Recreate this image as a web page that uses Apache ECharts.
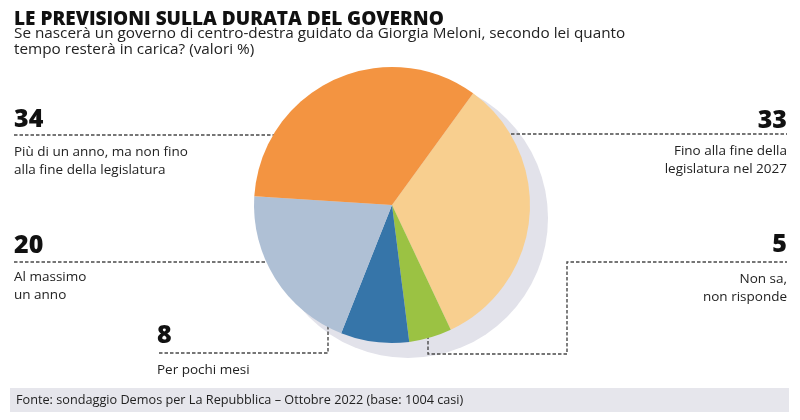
<!DOCTYPE html>
<html>
<head>
<meta charset="utf-8">
<script src="https://cdn.jsdelivr.net/npm/echarts@6/dist/echarts.min.js"></script>
<style>
html,body{margin:0;padding:0;background:#fff;}
#chart{width:800px;height:420px;}
</style>
</head>
<body>
<div id="chart"></div>
<script>
// ---- data ----
const titleText = 'LE PREVISIONI SULLA DURATA DEL GOVERNO';
const subtitleText = 'Se nascerà un governo di centro-destra guidato da Giorgia Meloni, secondo lei quanto\ntempo resterà in carica? (valori %)';
const sourceText = 'Fonte: sondaggio Demos per La Repubblica – Ottobre 2022 (base: 1004 casi)';
const categories = [
  'Fino alla fine della\nlegislatura nel 2027',
  'Non sa,\nnon risponde',
  'Per pochi mesi',
  'Al massimo\nun anno',
  'Più di un anno, ma non fino\nalla fine della legislatura'
];
const values = [33, 5, 8, 20, 34];
const colors = ['#f8cf8f', '#9bc243', '#3675a9', '#afc0d5', '#f39441'];

// ---- layout ----
const cx = 392, cy = 205, R = 138;
const FONT = '"Open Sans", "Noto Sans", sans-serif';
const dash = { stroke: '#4a4a4a', lineWidth: 1.4, lineDash: [3.5, 2] };

const labelLayout = [
  { i: 0, x: 787, numY: 121, align: 'right', line: [[500, 134], [787, 134]], textY: 142 },
  { i: 1, x: 787, numY: 245, align: 'right', line: [[428, 330], [428, 354], [567, 354], [567, 262], [787, 262]], textY: 270 },
  { i: 2, x: 157, numY: 336, align: 'left', line: [[328, 315], [328, 353], [157, 353]], textY: 361 },
  { i: 3, x: 14, numY: 246, align: 'left', line: [[14, 262], [290, 262]], textY: 268 },
  { i: 4, x: 14, numY: 120, align: 'left', line: [[14, 135], [290, 135]], textY: 143 }
];

const graphics = [];
graphics.push({ type: 'circle', z: 0, silent: true, shape: { cx: cx + 16, cy: cy + 13, r: R + 2 }, style: { fill: '#e2e2ea' } });
labelLayout.forEach(l => {
  graphics.push({ type: 'polyline', z: 1, silent: true, shape: { points: l.line }, style: Object.assign({ fill: null }, dash) });
  graphics.push({ type: 'text', z: 3, x: l.x, y: l.numY, style: {
    text: String(values[l.i]), font: '900 25px ' + FONT, fill: '#111', textAlign: l.align, textVerticalAlign: 'middle' } });
  graphics.push({ type: 'text', z: 3, x: l.x, y: l.textY, style: {
    text: categories[l.i], font: '13.5px ' + FONT, fill: '#222', textAlign: l.align, textVerticalAlign: 'top', lineHeight: 18 } });
});
graphics.push({ type: 'text', z: 3, x: 14, y: 20, style: { text: titleText, font: '800 19px ' + FONT, fill: '#111', textVerticalAlign: 'middle' } });
graphics.push({ type: 'text', z: 3, x: 14, y: 26, style: { text: subtitleText, font: '15.3px ' + FONT, fill: '#222', textVerticalAlign: 'top', lineHeight: 16 } });
graphics.push({ type: 'rect', z: 0, silent: true, shape: { x: 10, y: 388, width: 779, height: 24 }, style: { fill: '#e6e6ec' } });
graphics.push({ type: 'text', z: 3, x: 16, y: 400, style: { text: sourceText, font: '12.7px ' + FONT, fill: '#222', textVerticalAlign: 'middle' } });

const chart = echarts.init(document.getElementById('chart'), null, { renderer: 'canvas' });
chart.setOption({
  animation: false,
  backgroundColor: '#fff',
  graphic: { elements: graphics },
  series: [{
    type: 'pie',
    z: 2,
    center: [cx, cy],
    radius: R,
    startAngle: 54,
    clockwise: true,
    silent: true,
    label: { show: false },
    labelLine: { show: false },
    itemStyle: { borderWidth: 0 },
    data: values.map((v, k) => ({ value: v, name: categories[k], itemStyle: { color: colors[k] } }))
  }]
});
</script>
</body>
</html>
